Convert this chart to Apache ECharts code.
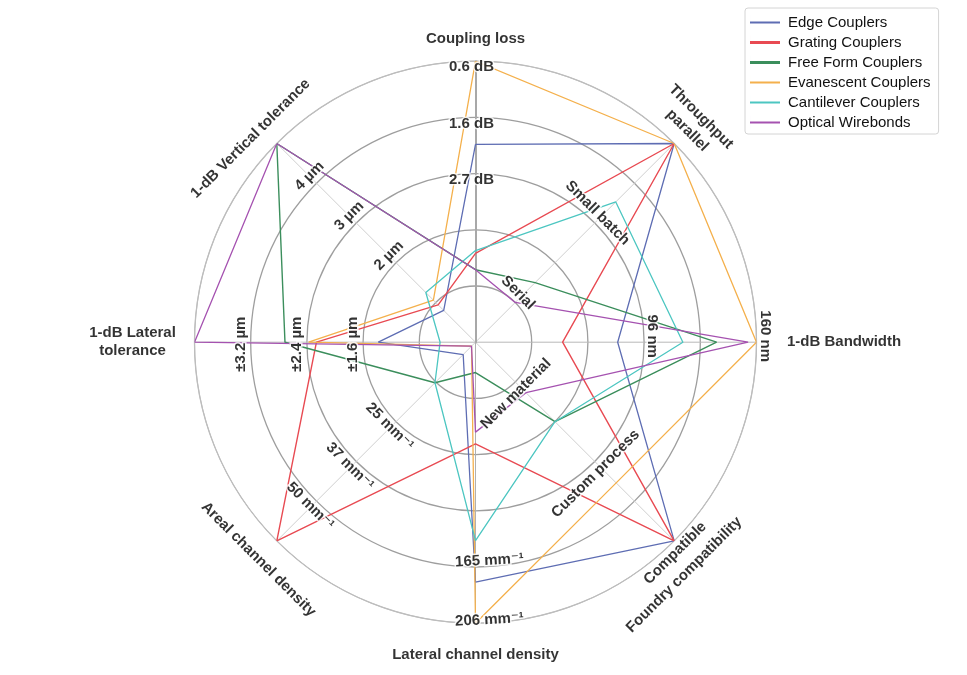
<!DOCTYPE html>
<html>
<head>
<meta charset="utf-8">
<script src="https://cdn.jsdelivr.net/npm/echarts@6/dist/echarts.min.js"></script>
<style>
html,body{margin:0;padding:0;background:#fff;}
#chart{width:967px;height:675px;}
</style>
</head>
<body>
<div id="chart"></div>
<script>
// ---------- DATA ----------
// axes, clockwise from top
const axisNames = ['Coupling loss', 'Throughput', '1-dB Bandwidth', 'Foundry compatibility',
  'Lateral channel density', 'Areal channel density', '1-dB Lateral\ntolerance', '1-dB Vertical tolerance'];

const seriesNames = ['Edge Couplers', 'Grating Couplers', 'Free Form Couplers',
  'Evanescent Couplers', 'Cantilever Couplers', 'Optical Wirebonds'];

// values in ring units (0 = centre, 5 = outer ring), same axis order as axisNames
const edgeCouplers       = [3.52, 5.0, 2.53, 5.0, 4.27, 0.31, 1.73, 0.80];
const gratingCouplers    = [1.58, 5.0, 1.55, 5.0, 1.81, 5.0, 2.83, 0.94];
const freeFormCouplers   = [1.29, 1.5, 4.29, 2.0, 0.54, 1.02, 3.39, 5.0];
const evanescentCouplers = [5.0, 5.0, 5.0, 3.54, 5.0, 0.10, 2.97, 1.06];
const cantileverCouplers = [1.63, 3.53, 3.69, 2.0, 3.53, 1.02, 0.63, 1.25];
const opticalWirebonds   = [1.29, 1.0, 4.85, 1.27, 1.60, 0.10, 5.0, 5.0];

// tick labels per axis and the ring each belongs to
const tickLabels = [
  ['0.6 dB', '1.6 dB', '2.7 dB'],
  ['Serial', 'Small batch', 'parallel'],
  ['96 nm', '160 nm'],
  ['New material', 'Custom process', 'Compatible'],
  ['165 mm\u207B\u00B9', '206 mm\u207B\u00B9'],
  ['25 mm\u207B\u00B9', '37 mm\u207B\u00B9', '50 mm\u207B\u00B9'],
  ['\u00B11.6 \u00B5m', '\u00B12.4 \u00B5m', '\u00B13.2 \u00B5m'],
  ['2 \u00B5m', '3 \u00B5m', '4 \u00B5m']
];
const tickRings = [
  [5, 4, 3],
  [1, 3, 5],
  [3, 5],
  [1, 3, 5],
  [4, 5],
  [2, 3, 4],
  [2, 3, 4],
  [2, 3, 4]
];

// ---------- STYLE / LAYOUT ----------
const FONT = "'Liberation Sans', 'DejaVu Sans', Arial, sans-serif";
const CENTER = [475.5, 342.2];
const RADIUS = 281;
const RINGS = 5;
const UNIT = RADIUS / RINGS;
const STEP = 360 / axisNames.length;

const colors = ['#5e6db3', '#e84a52', '#3b8e5c', '#f4b04c', '#4cc6c1', '#a552b0'];
const lineWidths = [1.3, 1.4, 1.4, 1.3, 1.3, 1.3];
// legend bar icons (thin bars inside a 30x14 box)
const barThin = 'path://M0,0h0.01v14h-0.01Z M0,6h30v2h-30Z';
const barThick = 'path://M0,0h0.01v14h-0.01Z M0,5.5h30v3h-30Z';
const legendIcons = [barThin, barThick, barThick, barThin, barThin, barThin];

// tick label layout per axis: radial offset px, tangential offset px (clockwise +), rotation
const tickLayout = [
  { dr: -6, dt: -4, rot: 0 },
  { dr: 9, dt: -5, rot: -45 },
  { dr: 8.5, dt: -6, rot: -90 },
  { dr: 9.5, dt: 8, rot: 45 },
  { dr: -6, dt: -14, rot: 3 },
  { dr: 8, dt: 1, rot: -45 },
  { dr: 10, dt: -2, rot: 90 },
  { dr: 10, dt: 0, rot: 45 }
];
const tickOverride = { 'parallel': { dr: 18.4, dt: 0 } };

// axis name layout: radius px, tangential px, rotation, align
const nameLayout = [
  { r: 303, dt: 0, rot: 0, align: 'center' },
  { r: 318.8, dt: 0, rot: -45, align: 'center' },
  { r: 311.5, dt: 0, rot: 0, align: 'left' },
  { r: 312.6, dt: 17, rot: 45, align: 'center' },
  { r: 313, dt: 0, rot: 0, align: 'center' },
  { r: 307, dt: 0, rot: -45, align: 'center' },
  { r: 343, dt: 0, rot: 0, align: 'center' },
  { r: 303.4, dt: -15, rot: 45, align: 'center' }
];

function polarPos(ringValue, drPx, axisIndex, dtPx) {
  const rData = ringValue + drPx / UNIT;
  const rPx = rData * UNIT;
  const ang = axisIndex * STEP + (dtPx / rPx) * 180 / Math.PI;
  return [rData, ang];
}

const allValues = [edgeCouplers, gratingCouplers, freeFormCouplers,
  evanescentCouplers, cantileverCouplers, opticalWirebonds];

const lineSeries = allValues.map(function (vals, s) {
  const pts = vals.map(function (v, i) { return [v, i * STEP]; });
  pts.push([vals[0], 360]);
  return {
    name: seriesNames[s],
    type: 'line',
    coordinateSystem: 'polar',
    data: pts,
    symbol: 'none',
    clip: false,
    smooth: false,
    color: colors[s],
    lineStyle: { color: colors[s], width: lineWidths[s] },
    z: 3
  };
});

const tickData = [];
tickLabels.forEach(function (labels, i) {
  labels.forEach(function (txt, j) {
    const lay = Object.assign({}, tickLayout[i], tickOverride[txt] || {});
    let dr = lay.dr;
    if (i === 4 && tickRings[i][j] === 5) dr = -3;
    tickData.push({
      value: polarPos(tickRings[i][j], dr, i, lay.dt),
      label: { formatter: txt, rotate: lay.rot }
    });
  });
});

const nameData = axisNames.map(function (name, i) {
  const lay = nameLayout[i];
  return {
    value: polarPos(0, lay.r, i, lay.dt),
    label: { formatter: name, rotate: lay.rot, align: lay.align }
  };
});

const labelBase = {
  show: true,
  position: 'inside',
  fontFamily: FONT,
  fontSize: 15,
  fontWeight: 'bold',
  color: '#000000',
  verticalAlign: 'middle',
  align: 'center'
};

const option = {
  animation: false,
  backgroundColor: '#ffffff',
  polar: { center: CENTER, radius: RADIUS },
  angleAxis: {
    type: 'value', min: 0, max: 360, interval: STEP,
    startAngle: 90, clockwise: true,
    axisLine: { show: true, lineStyle: { color: '#bdbdbd', width: 1 } },
    axisTick: { show: false },
    axisLabel: { show: false },
    splitLine: { show: true, lineStyle: {
      color: ['#a8a8a8', '#d0d0d0', '#b8b8b8', '#d0d0d0', '#b0b0b0', '#d0d0d0', '#b8b8b8', '#d0d0d0', '#a8a8a8'],
      width: 1 } },
    splitArea: { show: false }
  },
  radiusAxis: {
    type: 'value', min: 0, max: RINGS, interval: 1,
    axisLine: { show: true, lineStyle: { color: '#a8a8a8', width: 2 } },
    axisTick: { show: false },
    axisLabel: { show: false },
    splitLine: { show: true, lineStyle: {
      color: ['#ffffff', '#9e9e9e', '#9e9e9e', '#9e9e9e', '#9e9e9e', '#bdbdbd'],
      width: 1.3 } },
    splitArea: { show: false }
  },
  legend: {
    orient: 'vertical',
    left: 745, top: 8,
    padding: [7, 8, 4, 5],
    itemWidth: 30, itemHeight: 14, itemGap: 5,
    backgroundColor: '#ffffff',
    borderColor: '#d4d4d4', borderWidth: 1, borderRadius: 3,
    textStyle: { fontFamily: FONT, fontSize: 15, lineHeight: 14, color: '#111111', padding: [0, 0, 0, 3] },
    data: seriesNames.map(function (n, s) {
      return { name: n, icon: legendIcons[s], itemStyle: { color: colors[s] } };
    })
  },
  series: lineSeries.concat([
    {
      name: 'ticks', type: 'scatter', coordinateSystem: 'polar', clip: false, silent: true,
      symbolSize: 1, itemStyle: { color: 'rgba(0,0,0,0)' },
      label: Object.assign({}, labelBase, { textBorderColor: '#ffffff', textBorderWidth: 3 }),
      data: tickData, z: 5
    },
    {
      name: 'names', type: 'scatter', coordinateSystem: 'polar', clip: false, silent: true,
      symbolSize: 1, itemStyle: { color: 'rgba(0,0,0,0)' },
      label: Object.assign({}, labelBase, { lineHeight: 18 }),
      data: nameData, z: 5
    }
  ])
};

const chart = echarts.init(document.getElementById('chart'), null, { renderer: 'canvas' });
chart.setOption(option);
</script>
</body>
</html>
